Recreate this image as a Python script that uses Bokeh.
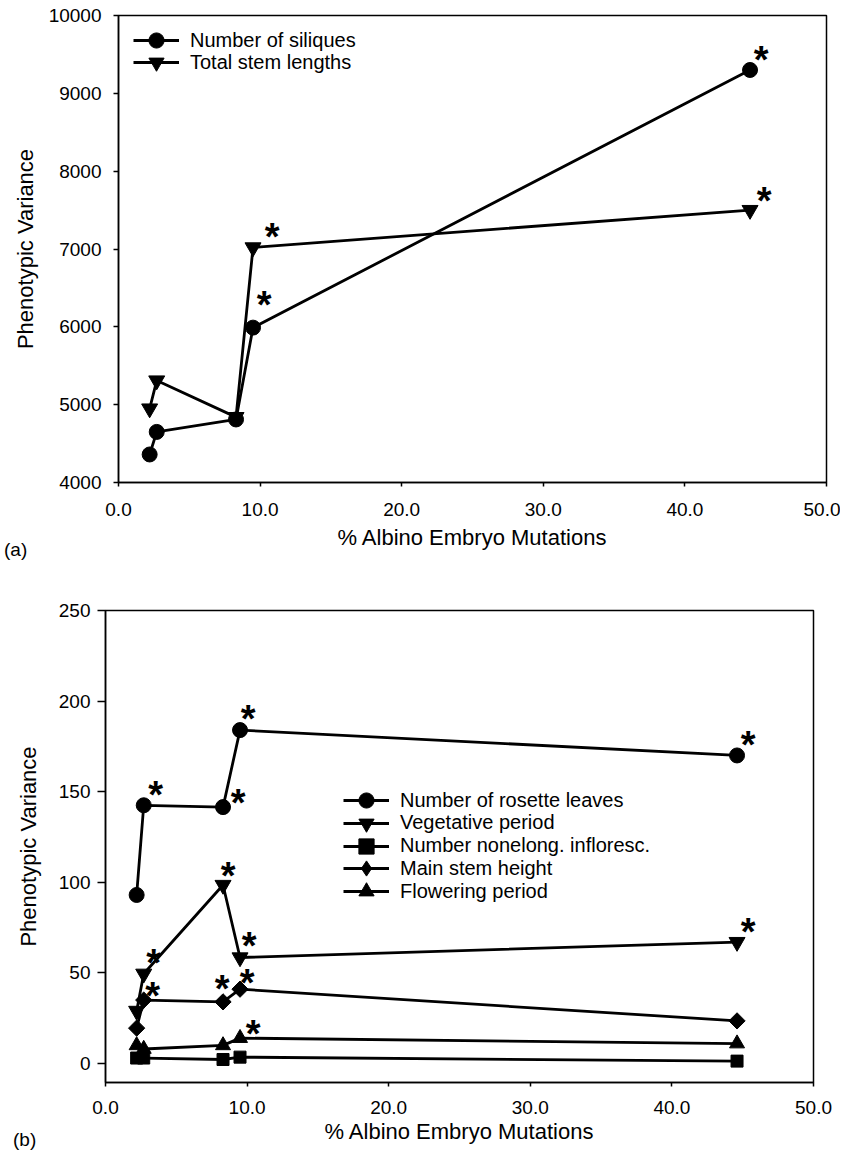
import math
from bokeh.plotting import figure
from bokeh.models import (ColumnDataSource, FixedTicker, NumeralTickFormatter,
                          Legend, LegendItem, Range1d, Div)
from bokeh.core.properties import value
from bokeh.embed import file_html
from bokeh.resources import INLINE

FONT = "Liberation Sans"

# ---------------- data ----------------
mutation_pct = [2.2, 2.7, 8.3, 9.5, 44.6]
x_ticks = [0, 10, 20, 30, 40, 50]

# panel (a)
siliques = [4360, 4650, 4810, 5990, 9300]
stem_lengths = [4950, 5310, 4840, 7020, 7500]
siliques_sig = [0, 0, 0, 1, 1]
stem_lengths_sig = [0, 0, 0, 1, 1]
a_y_ticks = [4000, 5000, 6000, 7000, 8000, 9000, 10000]

# panel (b)
rosette = [93, 142.5, 141.5, 184, 170]
vegetative = [29, 49.5, 98.5, 58.5, 67]
nonelong = [3, 3, 2.2, 3.5, 1.3]
main_stem = [19.5, 35, 34, 41, 23.5]
flowering = [10, 8, 10, 14, 11]
rosette_sig = [0, 1, 1, 1, 1]
vegetative_sig = [0, 1, 1, 1, 1]
nonelong_sig = [0, 0, 0, 0, 0]
main_stem_sig = [0, 1, 1, 1, 0]
flowering_sig = [0, 0, 0, 1, 0]
b_y_ticks = [0, 50, 100, 150, 200, 250]

# ---------------- styling helpers ----------------
STAR_DEFAULT = (11, -14)
STAR_PLACE = {
    ("siliques", 3): (11, -27), ("stem_lengths", 3): (19, -14),
    ("stem_lengths", 4): (14, -13),
    ("rosette", 1): (12, -14), ("rosette", 2): (15, -8), ("rosette", 3): (8, -15),
    ("vegetative", 1): (10, -15), ("vegetative", 2): (5, -13), ("vegetative", 3): (9, -15),
    ("main_stem", 1): (9, -8), ("main_stem", 2): (-1, -17), ("main_stem", 3): (7, -10),
    ("flowering", 3): (13, -8),
}
STAR_CORR = 4
LINE_W = 2.8
NAN = float("nan")


def style(p, y_ticks, ytick_out, ylab_standoff, ytitle_standoff, xlab_standoff, xtitle_standoff):
    p.xaxis.ticker = FixedTicker(ticks=x_ticks)
    p.xaxis.formatter = NumeralTickFormatter(format="0.0")
    p.yaxis.ticker = FixedTicker(ticks=y_ticks)
    p.yaxis.formatter = NumeralTickFormatter(format="0")
    p.xgrid.visible = False
    p.ygrid.visible = False
    p.outline_line_color = "black"
    p.outline_line_width = 1.5
    p.background_fill_color = "white"
    p.border_fill_color = "white"
    for ax in p.axis:
        ax.axis_line_color = "black"
        ax.axis_line_width = 1.5
        ax.major_tick_line_color = "black"
        ax.major_tick_line_width = 1.5
        ax.major_tick_in = 0
        ax.minor_tick_in = 0
        ax.minor_tick_out = 0
        ax.major_label_text_font = FONT
        ax.major_label_text_color = "black"
        ax.axis_label_text_font = FONT
        ax.axis_label_text_font_style = "normal"
        ax.axis_label_text_color = "black"
        ax.axis_label_text_font_size = "22px"
    p.xaxis.major_tick_out = 4
    p.xaxis.major_label_standoff = xlab_standoff
    p.xaxis.axis_label_standoff = xtitle_standoff
    p.xaxis.major_label_text_font_size = "19px"
    p.yaxis.major_tick_out = ytick_out
    p.yaxis.major_label_standoff = ylab_standoff
    p.yaxis.axis_label_standoff = ytitle_standoff
    p.yaxis.major_label_text_font_size = "19px"


def add_series(p, name, y, sig, marker, size, angle=0.0, legend_marker=None):
    src = ColumnDataSource(dict(x=mutation_pct, y=y))
    ln = p.line("x", "y", source=src, line_color="black", line_width=LINE_W)
    sc = p.scatter("x", "y", source=src, marker=marker, size=size, angle=angle,
                   fill_color="black", line_color="black")
    legend_rs = [ln, sc]
    if legend_marker is not None:
        # legend-only sample (legend samples ignore marker angle); NaN = not drawn in plot
        dummy = p.scatter(x=[NAN], y=[NAN], marker=legend_marker, fill_color="black",
                          line_color="black")
        legend_rs = [ln, dummy]
    sx, sy, dx, dy = [], [], [], []
    for i, f in enumerate(sig):
        if f:
            ox, oy = STAR_PLACE.get((name, i), STAR_DEFAULT)
            sx.append(mutation_pct[i]); sy.append(y[i])
            dx.append(ox); dy.append(oy + STAR_CORR)
    if sx:
        ssrc = ColumnDataSource(dict(x=sx, y=sy, dx=dx, dy=dy))
        p.text("x", "y", text=value("*"), source=ssrc, x_offset="dx", y_offset="dy",
               text_font=value(FONT), text_font_style="bold", text_font_size="38px",
               text_align="center", text_baseline="middle", text_color="black")
    return legend_rs


def add_legend_rows(p, items, x0, first_center, pitch, frame_h):
    gh = 38
    for k, (lab, rs) in enumerate(items):
        c = first_center + k * pitch
        bottom = frame_h - (c + gh / 2)
        lg = Legend(items=[LegendItem(label=lab, renderers=rs)],
                    location=(x0, bottom), padding=0, margin=0, spacing=0,
                    glyph_width=46, glyph_height=gh, label_height=20, label_standoff=11,
                    label_text_font=FONT, label_text_font_size="20px",
                    label_text_color="black",
                    background_fill_alpha=0, border_line_alpha=0)
        p.add_layout(lg)


def panel_tag(text, left, top):
    html = (f'<span style="font-family: \'{FONT}\' !important; font-size: 19px !important; '
            f'color: black; line-height: 22px;">{text}</span>')
    return Div(text=html, width=34, height=22,
               styles={"position": "absolute", "left": f"{left}px", "top": f"{top}px",
                       "margin": "0", "padding": "0", "font-size": "19px",
                       "font-family": FONT})


# ---------------- panel (a) ----------------
A_FRAME_H = 467
pa = figure(width=840, height=562, output_backend="svg", toolbar_location=None,
            x_range=Range1d(0, 50), y_range=Range1d(4000, 10000),
            min_border_left=118, min_border_right=14, min_border_top=15,
            min_border_bottom=80,
            x_axis_label="% Albino Embryo Mutations", y_axis_label="Phenotypic Variance")
style(pa, a_y_ticks, 5, 12, 8, 16, 6)
r_sil = add_series(pa, "siliques", siliques, siliques_sig, "circle", 15)
r_stem = add_series(pa, "stem_lengths", stem_lengths, stem_lengths_sig, "inverted_triangle", 16)
add_legend_rows(pa, [("Number of siliques", r_sil), ("Total stem lengths", r_stem)],
                15, 25, 22, A_FRAME_H)

# ---------------- panel (b) ----------------
B_FRAME_H = 472
pb = figure(width=840, height=588, output_backend="svg", toolbar_location=None,
            x_range=Range1d(0, 50), y_range=Range1d(-10.5, 250),
            min_border_left=105, min_border_right=27, min_border_top=48,
            min_border_bottom=68,
            x_axis_label="% Albino Embryo Mutations", y_axis_label="Phenotypic Variance")
style(pb, b_y_ticks, 8, 7, 15, 14, 2)
r_ros = add_series(pb, "rosette", rosette, rosette_sig, "circle", 15)
r_veg = add_series(pb, "vegetative", vegetative, vegetative_sig, "inverted_triangle", 16)
r_non = add_series(pb, "nonelong", nonelong, nonelong_sig, "square", 12)
r_main = add_series(pb, "main_stem", main_stem, main_stem_sig, "square", 11.5,
                    angle=math.pi / 4, legend_marker="diamond")
r_flow = add_series(pb, "flowering", flowering, flowering_sig, "triangle", 15)
add_legend_rows(pb, [("Number of rosette leaves", r_ros),
                     ("Vegetative period", r_veg),
                     ("Number nonelong. infloresc.", r_non),
                     ("Main stem height", r_main),
                     ("Flowering period", r_flow)],
                238, 190, 22.75, B_FRAME_H)

tag_a = panel_tag("(a)", 4, 536)
tag_b = panel_tag("(b)", 13, 1126)

open("out.html", "w").write(file_html([pa, pb, tag_a, tag_b], INLINE))
